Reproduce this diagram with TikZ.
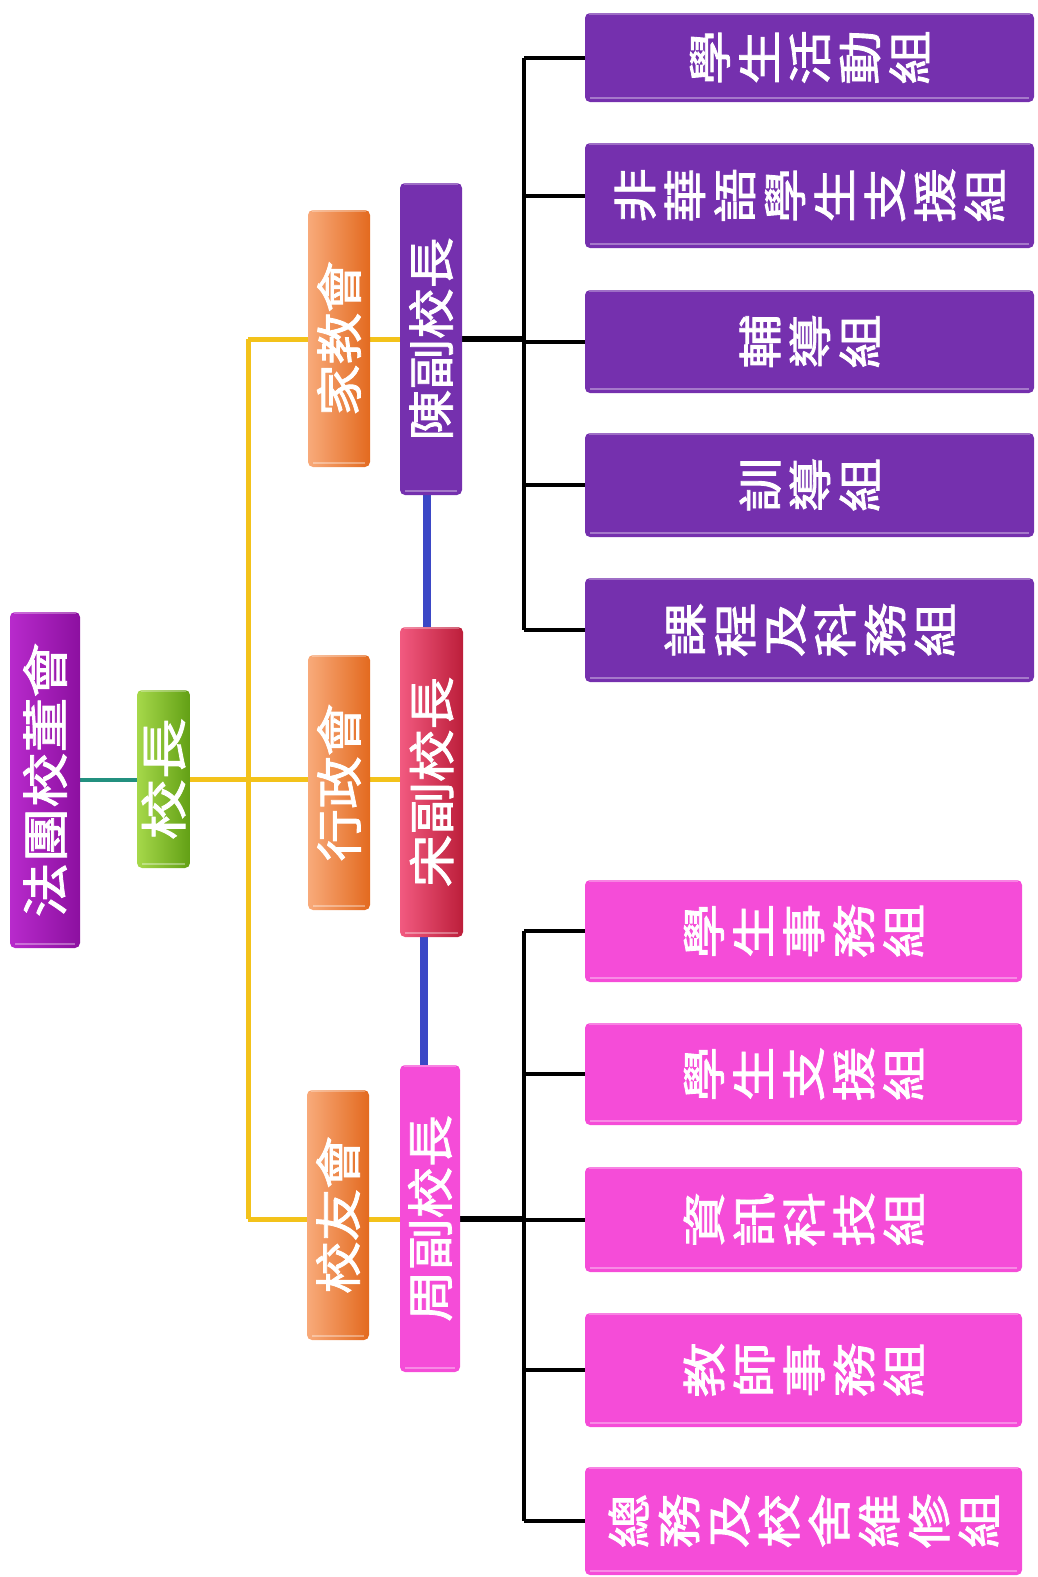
\documentclass[tikz,border=0pt]{standalone}
\usepackage{fontspec}
\usepackage{graphicx}
\newfontfamily\cjk[FakeBold=1.6]{Noto Sans CJK TC}
\usetikzlibrary{backgrounds}
\definecolor{purp}{HTML}{7530AE}
\definecolor{pnk}{HTML}{F54CD8}
\definecolor{orL}{HTML}{F8AA7A}
\definecolor{orR}{HTML}{E36A1F}
\definecolor{grL}{HTML}{A6D84A}
\definecolor{grR}{HTML}{62A015}
\definecolor{rdL}{HTML}{F25A80}
\definecolor{rdR}{HTML}{BC1E3A}
\definecolor{mgL}{HTML}{B82ACC}
\definecolor{mgR}{HTML}{8C10A0}
\definecolor{tealc}{HTML}{23907F}
\definecolor{yelc}{HTML}{F3C21A}
\definecolor{bluc}{HTML}{3B47C6}
\newcommand\rotl[2]{\rotatebox{90}{\scalebox{#1}[1]{#2}}}
\newcommand\stackv[1]{\rotatebox{90}{\scalebox{1.25}[1]{\vbox{\baselineskip=50pt\lineskiplimit=-200pt\lineskip=0pt\halign{\hfil##\hfil\cr #1\crcr}}}}}
\tikzset{
  box/.style={rectangle, rounded corners=5pt, inner sep=0pt, text=white,
    font=\cjk\fontsize{47}{52}\selectfont,
    path picture={
      \draw[white, opacity=.35, line width=2.5pt]
        ([xshift=5pt,yshift=4pt]path picture bounding box.south west) --
        ([xshift=-5pt,yshift=4pt]path picture bounding box.south east);
      \draw[white, opacity=.3, line width=1.5pt]
        ([xshift=4pt,yshift=-1pt]path picture bounding box.north west) --
        ([xshift=-4pt,yshift=-1pt]path picture bounding box.north east);
    }},
  rbox/.style={box, font=\cjk\fontsize{44}{50}\selectfont},
  obox/.style={box, left color=orL, right color=orR, minimum width=62pt},
  pbox/.style={rbox, fill=purp, minimum width=449pt},
  kbox/.style={rbox, fill=pnk, minimum width=437pt},
  tealln/.style={draw=tealc, line width=4pt},
  yelln/.style={draw=yelc, line width=5pt},
  bluln/.style={draw=bluc, line width=8pt},
  blkln/.style={draw=black, line width=4pt},
  blkmain/.style={draw=black, line width=6pt},
}
\begin{document}
\begin{tikzpicture}[x=1pt,y=-1pt]
\useasboundingbox (0,0) rectangle (1037,1577);
% left column
\node[box, left color=mgL, right color=mgR, minimum width=70pt, minimum height=336pt] (ft) at (45,780) {\rotl{1.17}{法團校董會}};
\node[box, left color=grL, right color=grR, minimum width=53pt, minimum height=178pt] (pr) at (163.5,779) {\rotl{1.3}{校長}};
\node[obox, minimum height=257pt] (pta) at (339,338.5) {\rotl{1.1}{家教會}};
\node[obox, minimum height=255pt] (adm) at (339,782.5) {\rotl{1.12}{行政會}};
\node[obox, minimum height=250pt] (alu) at (338,1215) {\rotl{1.12}{校友會}};
\node[box, fill=purp, minimum width=62pt, minimum height=312pt] (chen) at (431,339) {\rotl{1.08}{陳副校長}};
\node[box, left color=rdL, right color=rdR, minimum width=63pt, minimum height=310pt] (song) at (431.5,782) {\rotl{1.12}{宋副校長}};
\node[box, fill=pnk, minimum width=60pt, minimum height=307pt] (zhou) at (430,1218.5) {\rotl{1.1}{周副校長}};
% purple groups
\node[pbox, minimum height=89pt] (a1) at (809.5,57.5) {\stackv{學\cr 生\cr 活\cr 動\cr 組}};
\node[pbox, minimum height=105pt] (a2) at (809.5,195.5) {\stackv{非\cr 華\cr 語\cr 學\cr 生\cr 支\cr 援\cr 組}};
\node[pbox, minimum height=103pt] (a3) at (809.5,341.5) {\stackv{輔\cr 導\cr 組}};
\node[pbox, minimum height=104pt] (a4) at (809.5,485) {\stackv{訓\cr 導\cr 組}};
\node[pbox, minimum height=104pt] (a5) at (809.5,630) {\stackv{課\cr 程\cr 及\cr 科\cr 務\cr 組}};
% pink groups
\node[kbox, minimum height=102pt] (b1) at (803.5,931) {\stackv{學\cr 生\cr 事\cr 務\cr 組}};
\node[kbox, minimum height=102pt] (b2) at (803.5,1074) {\stackv{學\cr 生\cr 支\cr 援\cr 組}};
\node[kbox, minimum height=105pt] (b3) at (803.5,1219.5) {\stackv{資\cr 訊\cr 科\cr 技\cr 組}};
\node[kbox, minimum height=114pt] (b4) at (803.5,1370) {\stackv{教\cr 師\cr 事\cr 務\cr 組}};
\node[kbox, minimum height=108pt] (b5) at (803.5,1521) {\stackv{總\cr 務\cr 及\cr 校\cr 舍\cr 維\cr 修\cr 組}};
% connectors
\coordinate (yt) at (248,339);
\coordinate (yb) at (248,1219);
\coordinate (tr) at (524,0);
\begin{pgfonlayer}{background}
\draw[tealln] (ft) -- (ft -| pr);
\draw[yelln] (pr) -- (pr -| song);
\draw[yelln] (yt) -- (yb);
\draw[yelln] (yt) -- (yt -| chen);
\draw[yelln] (yb) -- (yb -| zhou);
\draw[bluln] ([xshift=-4pt]chen.south) -- ([xshift=-4pt]chen.south |- song.north);
\draw[bluln] ([xshift=-8pt]song.south) -- ([xshift=-8pt]song.south |- zhou.north);
\draw[blkln] (tr |- a1) -- (tr |- a5);
\foreach \n in {a1,a2,a3,a4,a5} \draw[blkln] (tr |- \n) -- (\n);
\draw[blkmain] (chen) -- (chen -| tr);
\draw[blkln] (tr |- b1) -- (tr |- b5);
\foreach \n in {b1,b2,b3,b4,b5} \draw[blkln] (tr |- \n) -- (\n);
\draw[blkmain] (zhou) -- (zhou -| tr);
\end{pgfonlayer}
\end{tikzpicture}
\end{document}
